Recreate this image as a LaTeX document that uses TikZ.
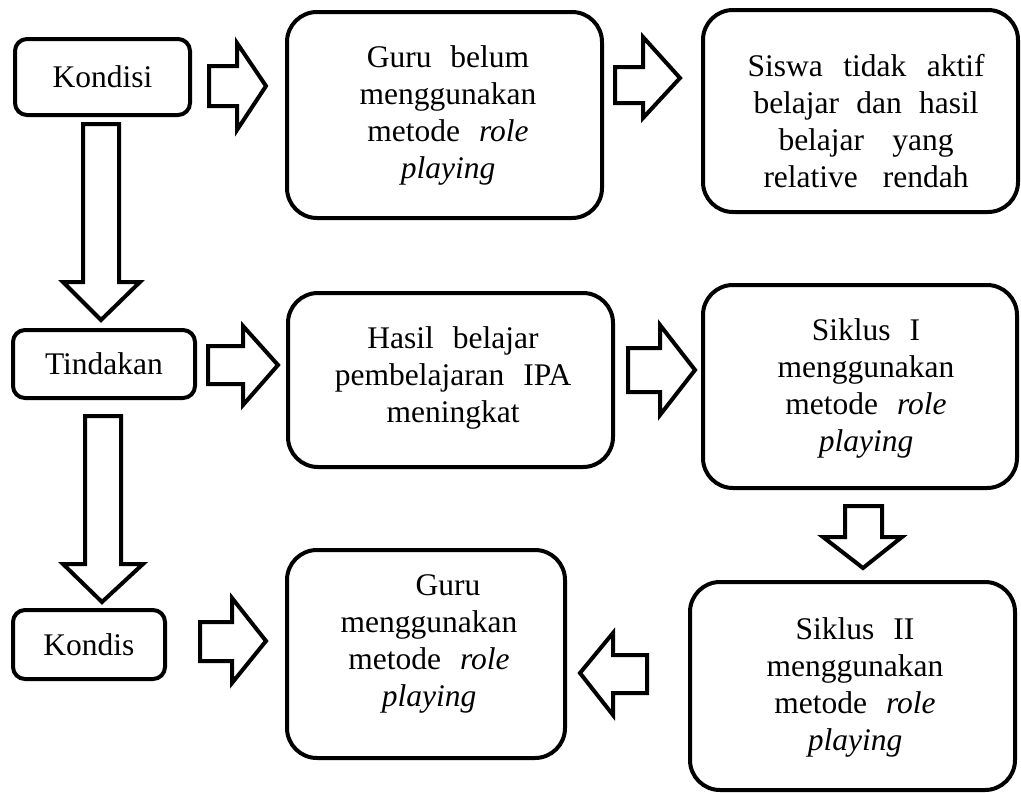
\documentclass[tikz,border=0pt]{standalone}
\usepackage{fontspec}
\setmainfont{Liberation Serif}
\newcommand{\jl}[2]{\makebox[#1][s]{#2}}
\newcommand{\widesp}{\spaceskip=0.6em plus 0.6em minus 0.25em\relax}
\begin{document}
\begin{tikzpicture}[x=1pt,y=-1pt,
  smallbox/.style={draw, line width=4pt, rounded corners=12pt, inner sep=0pt,
    font=\fontsize{31.5}{37}\selectfont},
  bigbox/.style={draw, line width=4pt, rounded corners=30pt, inner sep=0pt},
  txt/.style={align=center, inner sep=0pt,
    font=\fontsize{31.5}{37}\selectfont, execute at begin node=\widesp},
  barrow/.style={draw, fill=white, line width=4pt, line join=miter, miter limit=10}]
\useasboundingbox (0,0) rectangle (1021,793);

% left column boxes
\node[smallbox, minimum width=175pt, minimum height=76pt] (kondisi) at (102.5,77) {Kondisi};
\node[smallbox, minimum width=182pt, minimum height=68pt] (tindakan) at (104,364) {Tindakan};
\node[smallbox, minimum width=152pt, minimum height=69pt] (kondis) at (89,644.5) {Kondis};

% big boxes
\node[bigbox, minimum width=315pt, minimum height=206pt] (guru1) at (444.5,115) {};
\node[txt] (tguru1) at (448,115) {Guru belum\\menggunakan\\metode \textit{role}\\\textit{playing}};

\node[bigbox, minimum width=315pt, minimum height=202pt] (siswa) at (860.5,111) {};
\node[txt] (tsiswa) at (866,121) {\jl{237pt}{Siswa tidak aktif}\\\jl{225pt}{belajar dan hasil}\\\jl{175pt}{belajar yang}\\\jl{205pt}{relative rendah}};

\node[bigbox, minimum width=325pt, minimum height=174pt] (hasil) at (450.5,380) {};
\node[txt] (thasil) at (453,378) {Hasil belajar\\pembelajaran IPA\\meningkat};

\node[bigbox, minimum width=314pt, minimum height=203pt] (siklus1) at (860,386.5) {};
\node[txt] (tsiklus1) at (866,388) {Siklus I\\menggunakan\\metode \textit{role}\\\textit{playing}};

\node[bigbox, minimum width=325pt, minimum height=208pt] (siklus2) at (852.5,686) {};
\node[txt] (tsiklus2) at (855,687) {Siklus II\\menggunakan\\metode \textit{role}\\\textit{playing}};

\node[bigbox, minimum width=278pt, minimum height=208pt] (guru2) at (426,654) {};
\node[txt] (tguru2) at (429,644) {\hspace*{1.2em}Guru\\menggunakan\\metode \textit{role}\\\textit{playing}};

% block arrows
\draw[barrow] (209,66) -- (237,66) -- (237,43) -- (266,86) -- (237,130) -- (237,106) -- (209,106) -- cycle;
\draw[barrow] (615,67) -- (643,67) -- (643,37) -- (680,78) -- (643,118) -- (643,103) -- (615,103) -- cycle;
\draw[barrow] (208,346) -- (243,346) -- (243,326) -- (278,365) -- (243,405) -- (243,384) -- (208,384) -- cycle;
\draw[barrow] (628,348) -- (660,348) -- (660,325) -- (695,370) -- (660,415) -- (660,392) -- (628,392) -- cycle;
\draw[barrow] (200,622) -- (232,622) -- (232,598) -- (266,641) -- (232,683) -- (232,661) -- (200,661) -- cycle;
\draw[barrow] (647,655) -- (613,655) -- (613,633) -- (580,673) -- (613,715) -- (613,693) -- (647,693) -- cycle;
\draw[barrow] (83,124) -- (119,124) -- (119,282) -- (140,282) -- (101,320) -- (63,282) -- (83,282) -- cycle;
\draw[barrow] (85,416) -- (121,416) -- (121,564) -- (143,564) -- (102,602) -- (63,564) -- (85,564) -- cycle;
\draw[barrow] (845,506) -- (882,506) -- (882,537) -- (902,537) -- (863,568) -- (823,537) -- (845,537) -- cycle;
\end{tikzpicture}
\end{document}
